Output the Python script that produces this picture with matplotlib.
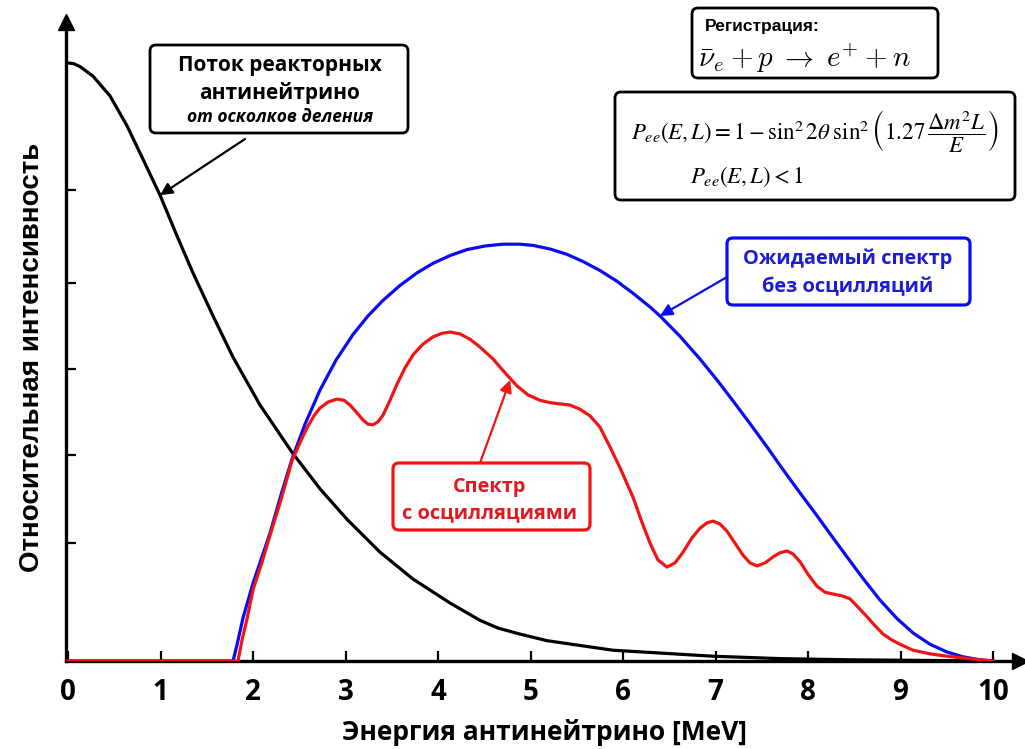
import matplotlib.pyplot as plt
from matplotlib.patches import FancyBboxPatch

# energy (MeV) and relative intensity
flux_E = [0, 0.06, 0.13, 0.27, 0.454, 0.638, 0.811, 0.995, 1.178, 1.351, 1.568, 1.784,
          2.076, 2.422, 2.724, 3.016, 3.373, 3.730, 4.130, 4.454, 4.65, 4.886, 5.178,
          5.892, 6.973, 7.697, 8.454, 10.0]
flux_I = [1.0, 0.999, 0.994, 0.978, 0.945, 0.895, 0.839, 0.779, 0.711, 0.649, 0.577,
          0.508, 0.428, 0.349, 0.288, 0.237, 0.182, 0.137, 0.097, 0.068, 0.055, 0.045,
          0.034, 0.018, 0.008, 0.004, 0.002, 0.0]

noosc_E = [0, 1.784, 1.827, 1.892, 2.0, 2.097, 2.184, 2.303, 2.422, 2.562, 2.724,
           2.897, 3.081, 3.243, 3.405, 3.589, 3.773, 3.946, 4.130, 4.314, 4.508,
           4.703, 4.886, 5.027, 5.211, 5.395, 5.568, 5.751, 5.935, 6.108, 6.292,
           6.400, 6.616, 6.832, 7.016, 7.189, 7.373, 7.557, 7.730, 7.914, 8.097,
           8.270, 8.422, 8.595, 8.778, 8.962, 9.135, 9.319, 9.503, 9.676, 9.859, 10.0]
noosc_I = [0, 0, 0.027, 0.072, 0.130, 0.174, 0.214, 0.278, 0.338, 0.396, 0.453,
           0.503, 0.546, 0.577, 0.603, 0.628, 0.649, 0.665, 0.678, 0.688, 0.694,
           0.697, 0.697, 0.695, 0.689, 0.680, 0.668, 0.653, 0.635, 0.615, 0.592,
           0.577, 0.543, 0.505, 0.470, 0.435, 0.397, 0.358, 0.320, 0.281, 0.243,
           0.206, 0.174, 0.138, 0.102, 0.071, 0.047, 0.028, 0.015, 0.007, 0.002, 0]

osc_E = [0, 1.838, 1.881, 1.935, 2.0, 2.097, 2.184, 2.303, 2.422, 2.508, 2.584,
         2.659, 2.724, 2.811, 2.908, 2.984, 3.049, 3.124, 3.189, 3.243, 3.297, 3.351,
         3.405, 3.481, 3.557, 3.643, 3.730, 3.838, 3.946, 4.043, 4.130, 4.238, 4.346,
         4.454, 4.595, 4.724, 4.854, 4.973, 5.103, 5.211, 5.319, 5.427, 5.535, 5.643,
         5.751, 5.859, 5.968, 6.108, 6.205, 6.292, 6.378, 6.476, 6.562, 6.649, 6.746,
         6.832, 6.908, 6.973, 7.049, 7.124, 7.211, 7.297, 7.373, 7.449, 7.535, 7.622,
         7.697, 7.773, 7.838, 7.914, 8.0, 8.097, 8.184, 8.270, 8.368, 8.454, 8.541,
         8.638, 8.724, 8.811, 8.908, 8.995, 9.135, 9.319, 9.503, 9.676, 9.859, 10.0]
osc_I = [0, 0, 0.035, 0.070, 0.119, 0.165, 0.210, 0.270, 0.335, 0.365, 0.390,
         0.410, 0.423, 0.433, 0.438, 0.436, 0.428, 0.415, 0.403, 0.396, 0.395, 0.400,
         0.411, 0.436, 0.463, 0.490, 0.512, 0.530, 0.542, 0.548, 0.550, 0.547, 0.538,
         0.525, 0.505, 0.482, 0.460, 0.445, 0.436, 0.432, 0.430, 0.428, 0.421, 0.410,
         0.391, 0.358, 0.323, 0.274, 0.232, 0.197, 0.169, 0.157, 0.164, 0.182, 0.206,
         0.222, 0.231, 0.234, 0.229, 0.217, 0.197, 0.177, 0.164, 0.159, 0.164, 0.174,
         0.181, 0.184, 0.179, 0.166, 0.145, 0.125, 0.115, 0.112, 0.109, 0.104, 0.090,
         0.074, 0.059, 0.045, 0.035, 0.028, 0.018, 0.012, 0.008, 0.005, 0.002, 0]

x_ticks = list(range(11))
y_ticks = [0.197, 0.344, 0.488, 0.632, 0.788]

W, H = 1025, 749
BLUE = '#0a0af5'
RED = '#f01414'

fig = plt.figure(figsize=(W / 100, H / 100), dpi=100)
ax = fig.add_axes([66 / W, 88 / H, (1020 - 66) / W, (661 - 22) / H])
ax.set_xlim(-2 / 92.5, (1020 - 68) / 92.5)
ax.set_ylim(0, (661 - 22) / 598)

ax.plot(flux_E, flux_I, color='black', lw=2.3, zorder=3, solid_joinstyle='round')
ax.plot(noosc_E, noosc_I, color=BLUE, lw=2.3, zorder=4, solid_joinstyle='round')
ax.plot(osc_E, osc_I, color=RED, lw=2.3, zorder=5, solid_joinstyle='round')

# axes with arrow heads
for side in ('top', 'right'):
    ax.spines[side].set_visible(False)
for side in ('left', 'bottom'):
    ax.spines[side].set_linewidth(2.4)
ax.plot(1, 0, '>', color='black', ms=11, transform=ax.transAxes, clip_on=False)
ax.plot(0, 1, '^', color='black', ms=11, transform=ax.transAxes, clip_on=False)

ax.set_xticks(x_ticks)
ax.set_yticks(y_ticks)
ax.set_yticklabels([])
ax.tick_params(direction='in', length=7, width=1.6)
ax.tick_params(axis='x', pad=12, labelsize=20)
for lbl in ax.get_xticklabels():
    lbl.set_family('Open Sans')
    lbl.set_stretch('condensed')
    lbl.set_weight('bold')

ax.set_xlabel('Энергия антинейтрино [MeV]', fontsize=19, family='Open Sans',
              stretch='condensed', weight='bold', va='center')
ax.xaxis.set_label_coords((545 - 66) / 954, (661 - 733) / 639)
ax.set_ylabel('Относительная интенсивность', fontsize=20, family='Liberation Sans',
              weight='bold', va='center')
ax.yaxis.set_label_coords((32 - 66) / 954, (661 - 357) / 639)


def box(x0, y0, x1, y1, color, lw=2.0):
    # rounded frame given by pixel corners, origin at top-left
    p = FancyBboxPatch((x0 / 100, (H - y1) / 100), (x1 - x0) / 100, (y1 - y0) / 100,
                       boxstyle='round,pad=0,rounding_size=0.06',
                       transform=fig.dpi_scale_trans, fc='white', ec=color, lw=lw,
                       zorder=10)
    fig.patches.append(p)


def ftext(x, y, s, **kw):
    fig.text(x / W, 1 - y / H, s, zorder=11, **kw)


def pointer(x, y, E, I, color):
    ax.annotate('', xy=(E, I), xycoords='data', xytext=(x / W, 1 - y / H),
                textcoords='figure fraction',
                arrowprops=dict(arrowstyle='-|>', color=color, lw=1.6,
                                mutation_scale=18, shrinkA=0, shrinkB=0),
                zorder=9)


lab = dict(ha='center', va='center', family='Open Sans', stretch='normal', weight='bold')

# flux label
box(150, 45, 408, 133, 'black')
ftext(280, 66, 'Поток реакторных', fontsize=15, **lab)
ftext(280, 93, 'антинейтрино', fontsize=15, **lab)
ftext(280, 117, 'от осколков деления', fontsize=12.5, style='italic', **lab)
pointer(245, 139, 0.995, 0.779, 'black')

# detection reaction
box(692, 8, 938, 78, 'black')
ftext(705, 27, 'Регистрация:', ha='left', va='center', fontsize=12.5,
      family='Liberation Sans', weight='bold')
ftext(805, 58, r'$\bar{\nu}_e + p\;\rightarrow\;e^{+} + n$', ha='center', va='center',
      fontsize=21, math_fontfamily='cm')

# survival probability
box(615, 92, 1015, 200, 'black')
ftext(815, 131, r'$P_{ee}(E,L) = 1 - \sin^2 2\theta\;\sin^2\left(1.27\,\dfrac{\Delta m^2 L}{E}\right)$',
      ha='center', va='center', fontsize=16.5, math_fontfamily='stix')
ftext(690, 177, r'$P_{ee}(E,L) < 1$', ha='left', va='center', fontsize=16.5,
      math_fontfamily='stix')

# expected spectrum label
box(727, 238, 970, 305, BLUE, lw=2.3)
ftext(848, 259, 'Ожидаемый спектр', fontsize=14.4, color='#1c1cd8', **lab)
ftext(848, 287, 'без осцилляций', fontsize=14.4, color='#1c1cd8', **lab)
pointer(727, 277, 6.40, 0.577, BLUE)

# oscillated spectrum label
box(393, 463, 590, 530, RED, lw=2.3)
ftext(490, 487, 'Спектр', fontsize=14.4, color='#e01820', **lab)
ftext(490, 513, 'с осцилляциями', fontsize=14.4, color='#e01820', **lab)
pointer(480, 463, 4.78, 0.47, RED)

fig.savefig('out.png', dpi=100)
